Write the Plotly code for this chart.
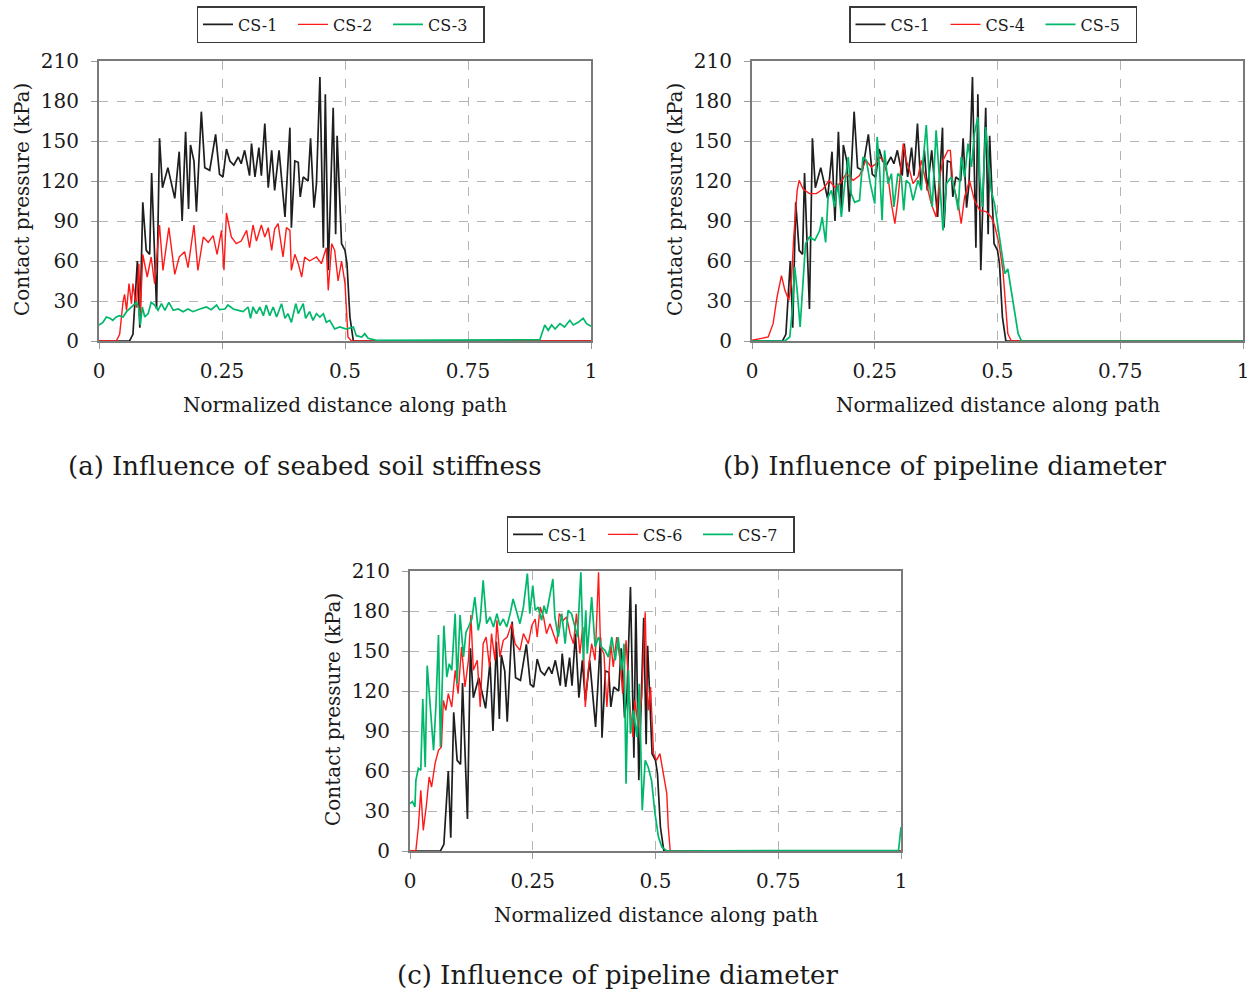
import plotly.graph_objects as go

# ---------------- data ----------------
cs1_x = [0, 0.062, 0.069, 0.078, 0.083, 0.089, 0.096, 0.103, 0.107, 0.117,
         0.123, 0.129, 0.140, 0.154, 0.163, 0.169, 0.176, 0.182, 0.186, 0.193,
         0.198, 0.208, 0.215, 0.225, 0.237, 0.245, 0.252, 0.259, 0.266, 0.274,
         0.283, 0.289, 0.296, 0.306, 0.310, 0.317, 0.325, 0.330, 0.337, 0.344,
         0.351, 0.357, 0.366, 0.373, 0.378, 0.388, 0.391, 0.398, 0.405, 0.409,
         0.415, 0.425, 0.430, 0.437, 0.442, 0.449, 0.456, 0.460, 0.466, 0.476,
         0.481, 0.484, 0.493, 0.500, 0.504, 0.510, 0.517, 1.0]
cs1_y = [0, 0, 5, 60, 10, 104, 68, 65, 126, 24,
         152, 115, 130, 107, 142, 90, 157, 99, 147, 135,
         97, 172, 130, 128, 155, 125, 123, 144, 135, 132,
         138, 133, 143, 124, 148, 123, 145, 124, 163, 115,
         143, 113, 143, 113, 93, 160, 85, 135, 134, 108,
         123, 120, 152, 100, 118, 198, 70, 185, 53, 175,
         80, 154, 73, 68, 58, 18, 0, 0]

cs2_x = [0, 0.035, 0.042, 0.049, 0.052, 0.056, 0.061, 0.066, 0.069, 0.076,
         0.081, 0.084, 0.089, 0.093, 0.098, 0.106, 0.113, 0.123, 0.130, 0.142,
         0.154, 0.163, 0.174, 0.181, 0.193, 0.201, 0.212, 0.222, 0.232, 0.240,
         0.249, 0.254, 0.259, 0.269, 0.279, 0.289, 0.300, 0.306, 0.313, 0.320,
         0.330, 0.337, 0.344, 0.351, 0.357, 0.364, 0.374, 0.381, 0.388, 0.391,
         0.398, 0.405, 0.412, 0.418, 0.428, 0.442, 0.452, 0.462, 0.466, 0.473,
         0.479, 0.486, 0.493, 0.500, 0.506, 0.513, 1.0]
cs2_y = [0, 0, 5, 30, 35, 23, 43, 28, 43, 25,
         58, 20, 65, 58, 48, 63, 43, 87, 53, 85,
         50, 63, 67, 55, 87, 53, 78, 74, 79, 65,
         83, 53, 96, 78, 73, 75, 83, 70, 87, 75,
         87, 78, 85, 68, 84, 88, 63, 85, 83, 53,
         65, 58, 48, 63, 60, 63, 58, 70, 38, 73,
         68, 45, 60, 43, 3, 0, 0]

cs3_x = [0, 0.008, 0.015, 0.022, 0.028, 0.035, 0.042, 0.049, 0.056, 0.066,
         0.076, 0.081, 0.084, 0.088, 0.093, 0.100, 0.106, 0.113, 0.120, 0.127,
         0.134, 0.142, 0.151, 0.161, 0.171, 0.181, 0.191, 0.205, 0.218, 0.228,
         0.239, 0.245, 0.256, 0.262, 0.273, 0.283, 0.293, 0.303, 0.308, 0.313,
         0.320, 0.327, 0.334, 0.340, 0.347, 0.354, 0.361, 0.371, 0.378, 0.384,
         0.391, 0.400, 0.405, 0.415, 0.420, 0.428, 0.435, 0.442, 0.449, 0.456,
         0.462, 0.469, 0.479, 0.489, 0.503, 0.517, 0.523, 0.534, 0.540, 0.547,
         0.564, 0.896, 0.906, 0.913, 0.920, 0.927, 0.937, 0.946, 0.957, 0.964,
         0.974, 0.984, 0.991, 1.0]
cs3_y = [12, 14, 18, 17, 15.5, 18, 19, 18, 22, 25.5,
         29, 24, 12, 25.5, 18, 20.5, 29, 27, 23, 28,
         23, 29, 23, 24, 22, 24, 22, 24, 25.5, 23.5,
         27, 23.5, 24, 27, 24, 23, 22, 25.5, 17, 25.5,
         20.5, 25.5, 19, 27, 19, 25.5, 18, 28, 17, 20.5,
         14, 28, 20.5, 28, 17, 22, 15.5, 20.5, 18, 20.5,
         14, 15.5, 9, 10.5, 9, 10.5, 4, 3, 5.5, 2,
         0.5, 1, 12, 8, 12, 9, 13, 10.5, 15.5, 12,
         14, 17, 13, 11]

cs4_x = [0, 0.016, 0.033, 0.043, 0.051, 0.060, 0.067, 0.075, 0.080, 0.085,
         0.092, 0.096, 0.104, 0.117, 0.131, 0.145, 0.157, 0.168, 0.179, 0.192,
         0.206, 0.219, 0.232, 0.243, 0.253, 0.260, 0.267, 0.277, 0.284, 0.291,
         0.297, 0.308, 0.314, 0.321, 0.328, 0.338, 0.345, 0.352, 0.358, 0.365,
         0.375, 0.382, 0.389, 0.399, 0.404, 0.409, 0.420, 0.426, 0.433, 0.443,
         0.453, 0.464, 0.477, 0.487, 0.494, 0.503, 0.511, 0.517, 0.521, 0.528,
         1.0]
cs4_y = [0.5, 1.5, 3, 13, 33, 49, 38, 30.5, 43, 78,
         113, 120.5, 114, 110.5, 110.5, 114, 120.5, 115.5, 118, 125.5,
         120.5, 124, 135.5, 130.5, 133, 138, 135.5, 123, 103, 88,
         105.5, 148, 135.5, 128, 118, 123, 135.5, 123, 113, 103,
         93, 123, 135.5, 143, 143, 118, 103, 88, 108, 120.5,
         105.5, 98, 97, 93, 87, 73, 53, 28, 5.5, 0,
         0]

cs5_x = [0, 0.067, 0.077, 0.082, 0.087, 0.092, 0.098, 0.104, 0.109, 0.117,
         0.128, 0.138, 0.143, 0.150, 0.155, 0.162, 0.168, 0.175, 0.182, 0.189,
         0.196, 0.202, 0.209, 0.219, 0.226, 0.233, 0.241, 0.250, 0.255, 0.260,
         0.265, 0.270, 0.277, 0.284, 0.289, 0.297, 0.304, 0.309, 0.314, 0.321,
         0.328, 0.338, 0.345, 0.348, 0.355, 0.362, 0.367, 0.375, 0.382, 0.389,
         0.396, 0.406, 0.413, 0.420, 0.426, 0.433, 0.440, 0.447, 0.453, 0.460,
         0.464, 0.469, 0.476, 0.483, 0.487, 0.494, 0.501, 0.508, 0.515, 0.521,
         0.528, 0.535, 0.542, 0.549, 1.0]
cs5_y = [0, 0, 3, 23, 55.5, 38, 10.5, 43, 73, 78,
         75.5, 83, 93, 74, 108, 113, 100.5, 118, 93, 118,
         138, 110.5, 104, 105.5, 138, 135.5, 118, 103, 153, 128,
         90.5, 143, 118, 125.5, 100.5, 125.5, 123, 98, 120.5, 118,
         105.5, 120.5, 113, 133, 162, 115.5, 100.5, 158, 118, 83,
         118, 123, 113, 98, 138, 123, 148, 130.5, 155.5, 168,
         123, 100.5, 160.5, 130.5, 113, 103, 85.5, 68, 50.5, 54,
         38, 23, 5.5, 0, 0]

cs6_x = [0, 0.012, 0.017, 0.022, 0.027, 0.033, 0.039, 0.044, 0.051, 0.058,
         0.064, 0.068, 0.073, 0.078, 0.085, 0.092, 0.098, 0.105, 0.112, 0.119,
         0.124, 0.129, 0.137, 0.143, 0.149, 0.155, 0.162, 0.166, 0.173, 0.177,
         0.183, 0.190, 0.198, 0.207, 0.214, 0.224, 0.231, 0.241, 0.248, 0.255,
         0.259, 0.265, 0.272, 0.278, 0.285, 0.292, 0.299, 0.304, 0.312, 0.319,
         0.326, 0.333, 0.339, 0.346, 0.352, 0.357, 0.363, 0.370, 0.377, 0.384,
         0.388, 0.395, 0.401, 0.409, 0.414, 0.421, 0.428, 0.433, 0.440, 0.447,
         0.454, 0.458, 0.465, 0.472, 0.479, 0.482, 0.485, 0.490, 0.496, 0.502,
         0.509, 0.516, 0.523, 0.526, 0.530, 1.0]
cs6_y = [0, 0.5, 18, 45.5, 15.5, 33, 55.5, 48, 65.5, 75.5,
         78, 113, 105.5, 118, 108, 135.5, 118, 153, 123, 143,
         177, 135.5, 143, 108, 155.5, 160.5, 138, 163, 143, 173,
         145.5, 158, 160.5, 170.5, 155.5, 150.5, 163, 155.5, 169, 174,
         160.5, 183, 175.5, 163, 170.5, 163, 155.5, 178, 173, 175.5,
         163, 155.5, 178, 148, 168, 108, 135.5, 155.5, 143, 209,
         153, 148, 108, 155.5, 138, 160.5, 143, 118, 158, 113,
         85.5, 113, 93, 115.5, 179, 130.5, 105.5, 123, 73, 68,
         73, 58, 43, 18, 0, 0]

cs7_x = [0, 0.005, 0.010, 0.012, 0.017, 0.022, 0.026, 0.031, 0.035, 0.042,
         0.048, 0.053, 0.058, 0.062, 0.069, 0.075, 0.080, 0.085, 0.092, 0.096,
         0.102, 0.109, 0.114, 0.119, 0.126, 0.132, 0.139, 0.143, 0.149, 0.156,
         0.163, 0.170, 0.177, 0.183, 0.190, 0.197, 0.204, 0.210, 0.217, 0.224,
         0.231, 0.239, 0.244, 0.250, 0.255, 0.261, 0.268, 0.273, 0.278, 0.285,
         0.291, 0.295, 0.302, 0.309, 0.316, 0.322, 0.329, 0.336, 0.341, 0.348,
         0.353, 0.358, 0.361, 0.370, 0.377, 0.384, 0.390, 0.397, 0.404, 0.411,
         0.418, 0.424, 0.431, 0.436, 0.440, 0.445, 0.449, 0.455, 0.462, 0.467,
         0.473, 0.479, 0.485, 0.492, 0.499, 0.506, 0.513, 0.523, 0.995, 1.0]
cs7_y = [35.5, 37, 33, 53, 62, 60.5, 114, 63, 139, 108,
         75.5, 110.5, 162, 78, 169, 130.5, 140.5, 135.5, 178, 125.5,
         177, 145.5, 164, 168, 174, 190.5, 165.5, 173, 203, 170.5,
         175.5, 168, 178, 169, 174, 168, 178, 189, 180.5, 170.5,
         183, 208, 178, 199, 180.5, 183, 173, 184, 178, 190.5,
         204, 175.5, 160.5, 178, 155.5, 180.5, 178, 168, 160.5, 209,
         143, 180.5, 148, 190.5, 153, 160.5, 153, 150.5, 145.5, 160.5,
         143, 160.5, 135.5, 155.5, 50.5, 135.5, 88, 105.5, 85.5, 125.5,
         30.5, 68, 63, 53, 28, 10.5, 3, 0, 0.5, 18]

x_ticks = [0, 0.25, 0.5, 0.75, 1]
x_tick_labels = ["0", "0.25", "0.5", "0.75", "1"]
y_ticks = [0, 30, 60, 90, 120, 150, 180, 210]

x_title = "Normalized distance along path"
y_title = "Contact pressure (kPa)"
captions = ["(a) Influence of seabed soil stiffness",
            "(b) Influence of pipeline diameter",
            "(c) Influence of pipeline diameter"]

BLACK = "#1e1e1e"
RED = "#ff1a1a"
GREEN = "#00b86b"
FONT = "DejaVu Serif"
TXT = "#1a1a1a"

W, H = 1250, 993


def px_x(px):
    return px / W


def px_y(py):
    return 1 - py / H


panels = [
    # (pixel box [left, right, top, bottom], series, legend id, legend centre px)
    ((99, 591, 61, 341),
     [("CS-1", cs1_x, cs1_y, BLACK), ("CS-2", cs2_x, cs2_y, RED), ("CS-3", cs3_x, cs3_y, GREEN)],
     "legend", (340.5, 24.5)),
    ((752, 1243, 61, 341),
     [("CS-1", cs1_x, cs1_y, BLACK), ("CS-4", cs4_x, cs4_y, RED), ("CS-5", cs5_x, cs5_y, GREEN)],
     "legend2", (993, 24.5)),
    ((410, 901, 571, 851),
     [("CS-1", cs1_x, cs1_y, BLACK), ("CS-6", cs6_x, cs6_y, RED), ("CS-7", cs7_x, cs7_y, GREEN)],
     "legend3", (650.5, 534.5)),
]

fig = go.Figure()
layout = dict(
    width=W, height=H,
    margin=dict(l=0, r=0, t=0, b=0),
    paper_bgcolor="white", plot_bgcolor="white",
    font=dict(family=FONT, color=TXT, size=16),
    showlegend=True,
)

annotations = []
for i, (box, series, leg, lpos) in enumerate(panels):
    l, r, t, b = box
    sfx = "" if i == 0 else str(i + 1)
    xa, ya = "x" + sfx, "y" + sfx
    for name, xs, ys, col in series:
        fig.add_trace(go.Scatter(
            x=xs, y=ys, mode="lines", name=name,
            line=dict(color=col, width=1.7 if col != RED else 1.4),
            xaxis=xa, yaxis=ya, legend=leg,
        ))
    layout["xaxis" + sfx] = dict(
        domain=[px_x(l), px_x(r)], anchor=ya, range=[0, 1],
        tickvals=x_ticks, ticktext=x_tick_labels,
        showgrid=True, gridcolor="#b4b4b4", griddash="dash", gridwidth=1.2,
        showline=True, linecolor="#7a7a7a", linewidth=2, mirror=True,
        ticks="outside", ticklen=6, tickcolor="#9a9a9a", tickwidth=1.2,
        ticklabelstandoff=5, automargin=False,
        tickfont=dict(family=FONT, size=20, color=TXT),
        zeroline=False,
    )
    layout["yaxis" + sfx] = dict(
        domain=[px_y(b), px_y(t)], anchor=xa, range=[0, 210],
        tickvals=y_ticks,
        showgrid=True, gridcolor="#b4b4b4", griddash="dash", gridwidth=1.2,
        showline=True, linecolor="#7a7a7a", linewidth=2, mirror=True,
        ticks="outside", ticklen=6, tickcolor="#9a9a9a", tickwidth=1.2,
        ticklabelstandoff=8, automargin=False,
        tickfont=dict(family=FONT, size=20, color=TXT),
        zeroline=False,
    )
    layout[leg] = dict(
        orientation="h", x=px_x(lpos[0]), y=px_y(lpos[1]),
        xanchor="center", yanchor="middle",
        bordercolor="#3a3a3a", borderwidth=1.5, bgcolor="white",
        font=dict(family=FONT, size=16, color=TXT),
        itemwidth=30, tracegroupgap=0, entrywidth=50, entrywidthmode="pixels",
    )

    # axis titles
    cx = (l + r) / 2
    annotations.append(dict(x=px_x(l - 77), y=px_y((t + b) / 2 - 1), xref="paper", yref="paper",
                            text=y_title, textangle=-90, showarrow=False,
                            xanchor="center", yanchor="middle",
                            font=dict(family=FONT, size=20, color=TXT)))
    annotations.append(dict(x=px_x(cx), y=px_y(b + 64), xref="paper", yref="paper",
                            text=x_title, showarrow=False, xanchor="center", yanchor="middle",
                            font=dict(family=FONT, size=20, color=TXT)))

caption_px = [(305, 466), (945, 466), (617, 975)]
for (cx, cy), cap in zip(caption_px, captions):
    annotations.append(dict(x=px_x(cx), y=px_y(cy), xref="paper", yref="paper", text=cap,
                            showarrow=False, xanchor="center", yanchor="middle",
                            font=dict(family=FONT, size=26, color=TXT)))
layout["annotations"] = annotations

fig.update_layout(**layout)
fig.write_html("out.html", post_script="document.body.style.margin='0';")
